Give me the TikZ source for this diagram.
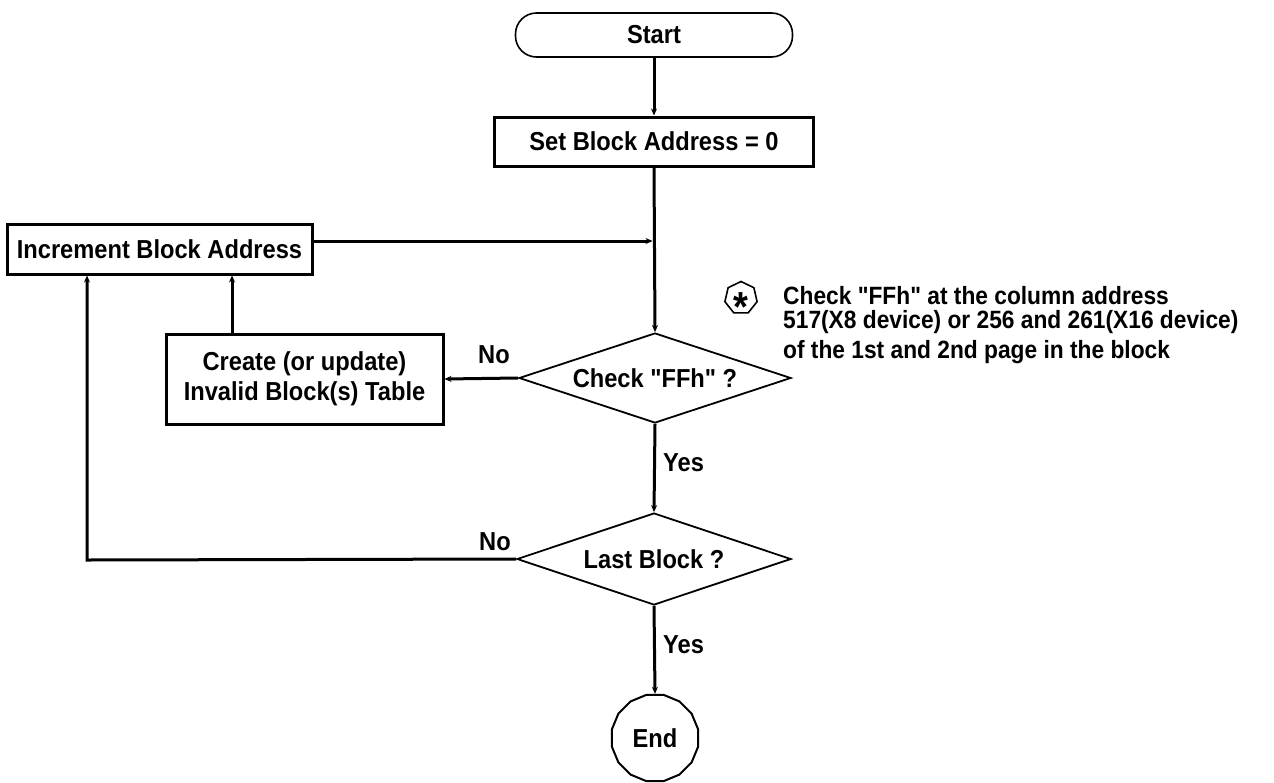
\documentclass[tikz,border=0pt]{standalone}
\usepackage{fontspec}
\setmainfont{Liberation Sans}[FakeStretch=0.91, Ligatures=TeXOff]
\usetikzlibrary{shapes.geometric,arrows.meta}
\tikzset{
  txt/.style={font=\fontsize{26pt}{30pt}\selectfont\bfseries},
  notetxt/.style={font=\fontsize{25pt}{29pt}\selectfont\bfseries, inner sep=0pt, anchor=base west},
  boxn/.style={txt, draw, line width=3pt, inner sep=0pt, align=center},
  dia/.style={txt, draw, line width=1.8pt, shape=diamond, aspect=3, inner sep=0pt},
  conn/.style={line width=3pt, -{Stealth[length=7pt,width=6pt]}},
  lbl/.style={txt, inner sep=0pt},
}
\begin{document}
\begin{tikzpicture}[x=1pt,y=-1pt]
\useasboundingbox (0,0) rectangle (1274,782);
\node[txt, draw, line width=1.6pt, rounded corners=21pt, minimum width=277pt, minimum height=44pt, inner sep=0pt] (start) at (654,35) {Start};
\node[boxn, minimum width=319pt, minimum height=49pt] (setbox) at (654,141.5) {Set Block Address = 0};
\node[boxn, minimum width=305pt, minimum height=50pt] (incbox) at (159.5,249) {Increment Block Address};
\node[boxn, minimum width=277pt, minimum height=90pt] (create) at (304.5,379) {Create (or update)\\Invalid Block(s) Table};
\node[dia, minimum width=272pt, minimum height=90pt] (check) at (655,378) {Check "FFh" ?};
\node[dia, minimum width=274pt, minimum height=92pt] (last) at (654,559) {Last Block ?};
\node[txt, draw, line width=2pt, shape=regular polygon, regular polygon sides=16, minimum size=88pt, inner sep=0pt] (end) at (655,738) {End};

\node[draw, line width=1.6pt, shape=regular polygon, regular polygon sides=7, minimum size=33pt, inner sep=0pt] (star) at (741,298) {};
\node[font=\fontsize{42pt}{42pt}\selectfont\bfseries, inner sep=0pt] (starsym) at (741,307) {*};
\node[notetxt] (n1) at (783,304) {Check "FFh" at the column address};
\node[notetxt] (n2) at (783,328) {517(X8 device) or 256 and 261(X16 device)};
\node[notetxt] (n3) at (783,358) {of the 1st and 2nd page in the block};

\coordinate (j) at (654,241);
\coordinate (upx) at (232,0);
\coordinate (lc) at (87,560);

\draw[conn] (start.south) -- (setbox.north);
\draw[conn] (setbox.south) -- (check.north);
\draw[conn, shorten >=1.5pt] (incbox.east |- j) -- (j);
\draw[conn] (check.west) -- (create.east);
\draw[conn] (create.north -| upx) -- (incbox.south -| upx);
\draw[conn] (check.south) -- (last.north);
\draw[conn] (last.west) -- (lc) -- (incbox.south -| lc);
\draw[conn] (last.south) -- (end.north);

\node[lbl] (no1) at (494,355) {No};
\node[lbl] (no2) at (495,542) {No};
\node[lbl, anchor=west] (yes1) at (663,463) {Yes};
\node[lbl, anchor=west] (yes2) at (663,645) {Yes};
\end{tikzpicture}
\end{document}
